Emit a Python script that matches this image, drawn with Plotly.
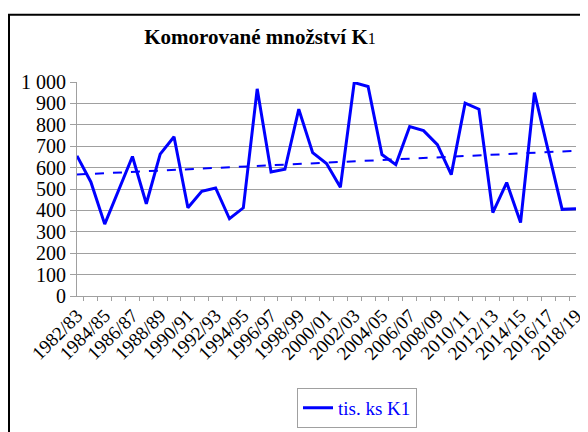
import numpy as np
import plotly.graph_objects as go

seasons = [f"{y}/{str(y + 1)[-2:]}" for y in range(1982, 2019)]
values = [655, 533, 336, 490, 652, 431, 663, 744, 412, 489, 505, 361, 412,
          968, 579, 592, 873, 670, 619, 508, 997, 979, 661, 614, 792, 773,
          707, 567, 901, 873, 390, 530, 343, 950, 677, 405, 408]
y_ticks = [0, 100, 200, 300, 400, 500, 600, 700, 800, 900, 1000]
y_labels = ["0", "100", "200", "300", "400", "500", "600", "700", "800", "900", "1 000"]

# linear trend over the whole series
idx = np.arange(len(values))
k, q = np.polyfit(idx, values, 1)
trend = [q, q + k * idx[-1]]

font = "Liberation Serif"
# the page body has an 8px margin, so the plot is placed 8px up/left of the target spot
L, T, W, H = 69, 74, 499, 226

fig = go.Figure()
fig.add_trace(go.Scatter(
    x=seasons, y=values, mode="lines", name="tis. ks K1",
    line=dict(color="#0000ff", width=3),
))
fig.add_trace(go.Scatter(
    x=[seasons[0], seasons[-1]], y=trend, mode="lines", showlegend=False,
    line=dict(color="#0000ff", width=2, dash="dash"),
))

fig.update_layout(
    width=588, height=432,
    margin=dict(l=L, r=588 - L - W, t=T, b=432 - T - H),
    paper_bgcolor="white", plot_bgcolor="white",
    font=dict(family=font, color="black", size=17),
    title=dict(
        text="<b>Komorované množství K</b><span style='font-size:16px'>1</span>",
        x=252 / 588, xanchor="center", y=1 - 29 / 432, yanchor="middle",
        font=dict(size=21, family=font),
    ),
    legend=dict(
        x=(289 - L) / W, xanchor="left", y=1 - (397 - T) / H, yanchor="top",
        bordercolor="#a0a0a0", borderwidth=1, font=dict(color="#0000ff", size=19, family=font),
        itemwidth=30, tracegroupgap=0,
    ),
    showlegend=True,
)
fig.update_xaxes(
    type="category", tickson="boundaries", automargin=False,
    tickvals=seasons, ticktext=[s if i % 2 == 0 else "" for i, s in enumerate(seasons)],
    tickangle=-45, ticks="outside", ticklen=4, tickcolor="#a0a0a0",
    showline=True, linecolor="#a0a0a0", showgrid=False,
    tickfont=dict(size=19, family=font),
)
fig.update_yaxes(
    range=[0, 1000], tickvals=y_ticks, ticktext=y_labels, automargin=False,
    ticks="outside", ticklen=6, tickcolor="#a0a0a0",
    showline=True, linecolor="#a0a0a0", gridcolor="#a0a0a0", gridwidth=1,
    zeroline=False, tickfont=dict(size=20, family=font),
)
# chart frame, partly cut off at the right and bottom
fig.add_shape(type="rect", xref="paper", yref="paper",
              x0=(1 - L) / W, x1=(600 - L) / W,
              y0=1 - (600 - T) / H, y1=1 + (T - 3) / H,
              line=dict(color="black", width=2))

fig.write_html("out.html")
